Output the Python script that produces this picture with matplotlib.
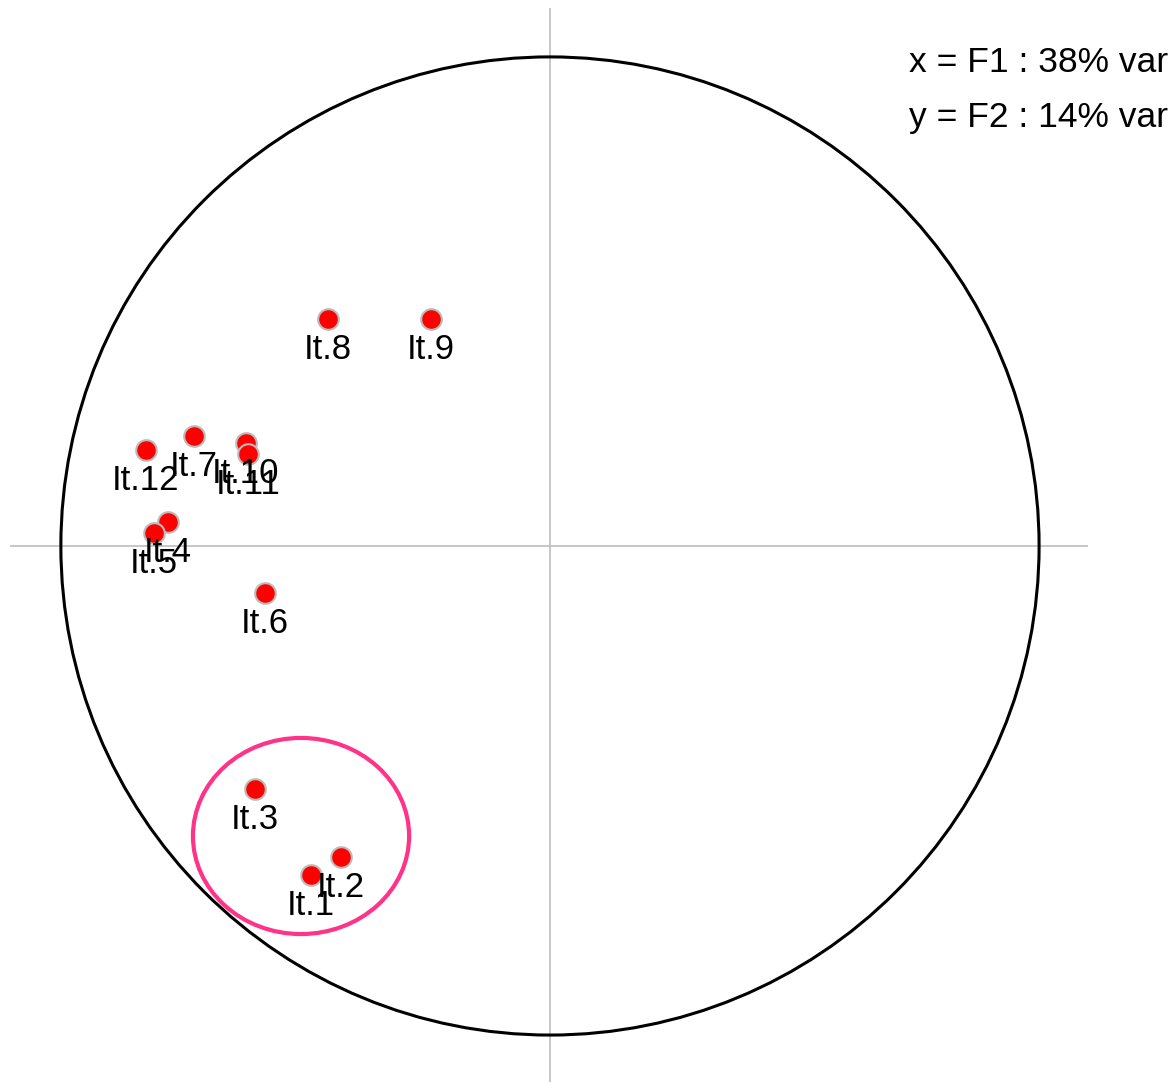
import matplotlib
matplotlib.use("Agg")
import matplotlib.pyplot as plt
from matplotlib.patches import Circle, Ellipse

labels = ["It.1", "It.2", "It.3", "It.4", "It.5", "It.6", "It.7", "It.8",
          "It.9", "It.10", "It.11", "It.12"]
f1 = [-0.489, -0.427, -0.603, -0.781, -0.810, -0.583, -0.728, -0.454,
      -0.243, -0.622, -0.618, -0.826]
f2 = [-0.673, -0.636, -0.497, 0.049, 0.027, -0.096, 0.225, 0.464,
      0.464, 0.211, 0.189, 0.196]
var_text = ["x = F1 : 38% var", "y = F2 : 14% var"]

plt.rcParams['font.family'] = ['Liberation Sans', 'DejaVu Sans']

fig = plt.figure(figsize=(11.74, 10.83), dpi=100)
W, H = 1174, 1083
ax = fig.add_axes([10 / W, 1 - 1082 / H, (1088 - 10) / W, (1082 - 8) / H])
ax.set_xlim(-1.104, 1.100)
ax.set_ylim(-1.096, 1.100)
ax.axis("off")

ax.axhline(0, color="#BEBEBE", lw=1.2, zorder=1)
ax.axvline(0, color="#BEBEBE", lw=1.2, zorder=1)

ax.add_patch(Circle((0, 0), 1.0, fill=False, ec="black", lw=2.2, zorder=2))
ax.add_patch(Ellipse((-0.509, -0.593), 0.442, 0.401, fill=False,
                     ec="#FF3388", lw=3, zorder=2))

ax.scatter(f1, f2, s=220, c="#FF0000", edgecolors="#BBBBBB", linewidths=1.5,
           zorder=3)
for lab, x, y in zip(labels, f1, f2):
    ax.annotate(lab, (x, y), xytext=(0, -22), textcoords="offset points",
                ha="center", va="center", fontsize=25, color="black", zorder=4)

fig.text(1168 / W, 1 - 63 / H, var_text[0], ha="right", va="center", fontsize=25.5)
fig.text(1168 / W, 1 - 117 / H, var_text[1], ha="right", va="center", fontsize=25.5)

fig.savefig("out.png", dpi=100, facecolor="white")
